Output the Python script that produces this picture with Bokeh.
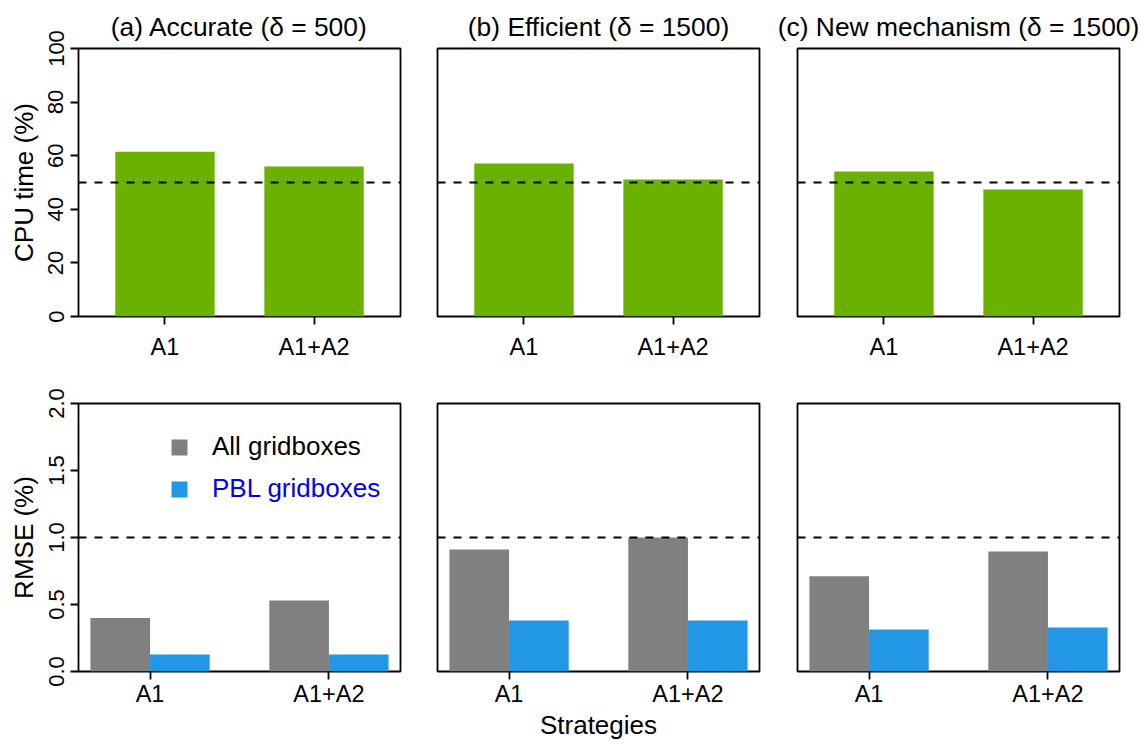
from bokeh.plotting import figure
from bokeh.models import Range1d, FixedTicker, Span, Legend, LegendItem
from bokeh.layouts import row, column
from bokeh.embed import file_html
from bokeh.resources import INLINE

# ---------------- data ----------------
strategies = ["A1", "A1+A2"]
panel_titles = ["(a) Accurate (\u03b4 = 500)",
                "(b) Efficient (\u03b4 = 1500)",
                "(c) New mechanism (\u03b4 = 1500)"]
cpu_time = [[61.5, 56.0], [57.1, 51.1], [54.1, 47.4]]          # CPU time (%)
rmse_all = [[0.40, 0.53], [0.91, 1.00], [0.71, 0.895]]          # RMSE all gridboxes
rmse_pbl = [[0.127, 0.127], [0.38, 0.38], [0.313, 0.328]]       # RMSE PBL gridboxes
series_names = ["All gridboxes", "PBL gridboxes"]
cpu_ref = 50
rmse_ref = 1.0
cpu_ticks = [0, 20, 40, 60, 80, 100]
rmse_ticks = [0.0, 0.5, 1.0, 1.5, 2.0]
rmse_tick_labels = ["0.0", "0.5", "1.0", "1.5", "2.0"]

# ---------------- style ----------------
FONT = "Liberation Sans"
GREEN = "#6AB100"
GRAY = "#808080"
BLUE = "#2297E6"
TEXT_BLUE = "#0000EE"

col_w = [418, 360, 363]
col_l = [78, 19, 19]
col_r = [18, 19, 22]
LW = 1.8


def style(p):
    p.outline_line_color = "black"
    p.outline_line_width = LW
    p.xgrid.visible = False
    p.ygrid.visible = False
    p.background_fill_color = "white"
    p.border_fill_color = "white"
    for ax in p.axis:
        ax.axis_line_color = None
        ax.major_tick_in = 0
        ax.major_tick_out = 8
        ax.major_tick_line_width = LW
        ax.major_tick_line_color = "black"
        ax.minor_tick_line_color = None
        ax.major_label_text_font = FONT
        ax.major_label_text_color = "black"
        ax.axis_label_text_font = FONT
        ax.axis_label_text_font_style = "normal"
        ax.axis_label_text_font_size = "26px"
        ax.axis_label_text_color = "black"


def x_axis(p, ticks, standoff):
    p.xaxis.ticker = FixedTicker(ticks=ticks)
    p.xaxis.major_label_overrides = {t: s for t, s in zip(ticks, strategies)}
    p.xaxis.major_label_text_font_size = "23.5px"
    p.xaxis.major_label_standoff = standoff


def y_axis(p, ticks, labels, title):
    p.yaxis.ticker = FixedTicker(ticks=ticks)
    p.yaxis.major_label_overrides = {t: s for t, s in zip(ticks, labels)}
    p.yaxis.major_label_orientation = "vertical"
    p.yaxis.major_label_text_font_size = "22px"
    p.yaxis.major_label_standoff = 7
    p.yaxis.axis_label = title
    p.yaxis.axis_label_standoff = 7


top_row = []
bottom_row = []
for i in range(3):
    # ---- CPU time panel ----
    top_pos = [1 + 1.5 * k for k in range(len(strategies))]
    p = figure(width=col_w[i], height=363,
               x_range=Range1d(0.13, 3.37), y_range=Range1d(0, 100),
               output_backend="svg", toolbar_location=None,
               y_axis_location="left" if i == 0 else None,
               min_border_left=col_l[i], min_border_right=col_r[i],
               min_border_top=48, min_border_bottom=47)
    p.title.text = panel_titles[i]
    p.title.align = "center"
    p.title.text_font = FONT
    p.title.text_font_size = "26.4px"
    p.title.text_font_style = "normal"
    p.title.text_color = "black"
    p.title.standoff = 13
    p.vbar(x=top_pos, top=cpu_time[i], width=1.0, bottom=0,
           fill_color=GREEN, line_color=None)
    p.add_layout(Span(location=cpu_ref, dimension="width", line_color="black",
                      line_width=2, line_dash="8 8"))
    style(p)
    x_axis(p, top_pos, 9)
    if i == 0:
        y_axis(p, cpu_ticks, [str(t) for t in cpu_ticks], "CPU time (%)")
    top_row.append(p)

    # ---- RMSE panel ----
    all_pos = [1.5 + 3 * k for k in range(len(strategies))]
    pbl_pos = [2.5 + 3 * k for k in range(len(strategies))]
    tick_pos = [2 + 3 * k for k in range(len(strategies))]
    q = figure(width=col_w[i], height=381,
               x_range=Range1d(0.8, 6.2), y_range=Range1d(0, 2),
               output_backend="svg", toolbar_location=None,
               y_axis_location="left" if i == 0 else None,
               min_border_left=col_l[i], min_border_right=col_r[i],
               min_border_top=40, min_border_bottom=73)
    r_all = q.vbar(x=all_pos, top=rmse_all[i], width=1.0, bottom=0,
                   fill_color=GRAY, line_color=None)
    r_pbl = q.vbar(x=pbl_pos, top=rmse_pbl[i], width=1.0, bottom=0,
                   fill_color=BLUE, line_color=None)
    q.add_layout(Span(location=rmse_ref, dimension="width", line_color="black",
                      line_width=2, line_dash="8 8"))
    style(q)
    x_axis(q, tick_pos, 1)
    if i == 0:
        y_axis(q, rmse_ticks, rmse_tick_labels, "RMSE (%)")
        for name, rend, col, loc in [(series_names[0], r_all, "black", (91, 209)),
                                     (series_names[1], r_pbl, TEXT_BLUE, (91, 167))]:
            leg = Legend(items=[LegendItem(label=name, renderers=[rend])],
                         location=loc, padding=0, margin=0, spacing=0,
                         glyph_width=20, glyph_height=20, label_standoff=23,
                         border_line_color=None, background_fill_alpha=0,
                         label_text_font=FONT, label_text_font_size="26px",
                         label_text_color=col)
            q.add_layout(leg)
    if i == 1:
        q.xaxis.axis_label = "Strategies"
        q.xaxis.axis_label_standoff = 0
    bottom_row.append(q)

layout = column(row(*top_row), row(*bottom_row))

with open("out.html", "w") as f:
    f.write(file_html(layout, INLINE))
